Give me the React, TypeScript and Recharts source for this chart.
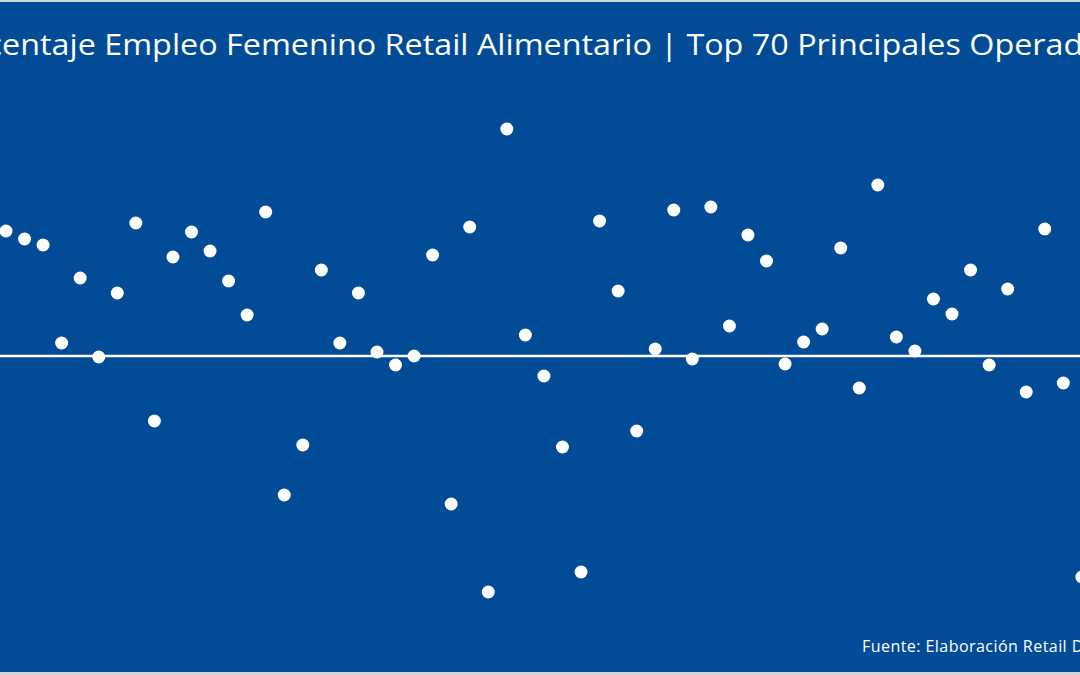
import React from "react";
import {
  ScatterChart,
  Scatter,
  XAxis,
  YAxis,
  ReferenceLine
} from "recharts";

// operator rank (visible part of the ranking)
const ranks = [
  1, 2, 3, 4, 5, 6, 7, 8, 9, 10,
  11, 12, 13, 14, 15, 16, 17, 18, 19, 20,
  21, 22, 23, 24, 25, 26, 27, 28, 29, 30,
  31, 32, 33, 34, 35, 36, 37, 38, 39, 40,
  41, 42, 43, 44, 45, 46, 47, 48, 49, 50,
  51, 52, 53, 54, 55, 56, 57, 58, 59
];

// % female employment per operator
const pctFemenino = [
  62.5, 61.7, 61.1, 51.3, 57.8, 49.9, 56.3, 63.3, 43.5, 59.9,
  62.4, 60.5, 57.5, 54.1, 64.4, 36.1, 41.1, 58.6, 51.3, 56.3,
  50.4, 49.1, 50.0, 60.1, 35.2, 62.9, 26.4, 72.7, 52.1, 48.0,
  40.9, 28.4, 63.5, 56.5, 42.5, 50.7, 64.6, 49.7, 64.9, 53.0,
  62.1, 59.5, 49.2, 51.4, 52.7, 60.8, 46.8, 67.1, 51.9, 50.5,
  55.7, 54.2, 58.6, 49.1, 56.7, 46.4, 62.7, 47.3, 27.9
];

const promedio = 50;

const titulo = "Porcentaje Empleo Femenino Retail Alimentario | Top 70 Principales Operadores";
const fuente = "Fuente: Elaboración Retail Data";

const data = ranks.map((r, i) => ({ rank: r, pct: pctFemenino[i] }));

const BG = "#024b97";

const Dot = (props: any) => (
  <circle cx={props.cx} cy={props.cy} r={6.5} fill="#ffffff" />
);

export default function App() {
  return (
    <div
      style={{
        position: "absolute",
        left: 0,
        top: 0,
        width: 1080,
        height: 675,
        background: BG,
        overflow: "hidden"
      }}
    >
      <ScatterChart width={1080} height={675} margin={{ top: 0, right: 0, bottom: 0, left: 0 }}>
        <XAxis
          type="number"
          dataKey="rank"
          domain={[0.677, 58.9]}
          allowDataOverflow
          hide
        />
        <YAxis
          type="number"
          dataKey="pct"
          domain={[18.1, 85.6]}
          allowDataOverflow
          hide
        />
        <ReferenceLine y={promedio} stroke="#ffffff" strokeWidth={2.5} />
        <Scatter data={data} shape={Dot} isAnimationActive={false} />
      </ScatterChart>
      <svg
        width={1080}
        height={675}
        style={{ position: "absolute", left: 0, top: 0, pointerEvents: "none" }}
      >
        <text
          x={542}
          y={54.5}
          textAnchor="middle"
          fill="#ffffff"
          fontFamily="'Open Sans', sans-serif"
          fontWeight={500}
          fontSize={30}
          textLength={1215}
          lengthAdjust="spacingAndGlyphs"
        >
          {titulo}
        </text>
        <text
          x={862}
          y={652}
          fill="#ffffff"
          fontFamily="'Open Sans', sans-serif"
          fontWeight={500}
          fontSize={16}
          letterSpacing={0.45}
        >
          {fuente}
        </text>
      </svg>
      <div style={{ position: "absolute", left: 0, top: 0, width: 1080, height: 2, background: "#d4d4d4" }} />
      <div style={{ position: "absolute", left: 0, top: 672, width: 1080, height: 3, background: "#d4d4d4" }} />
    </div>
  );
}
